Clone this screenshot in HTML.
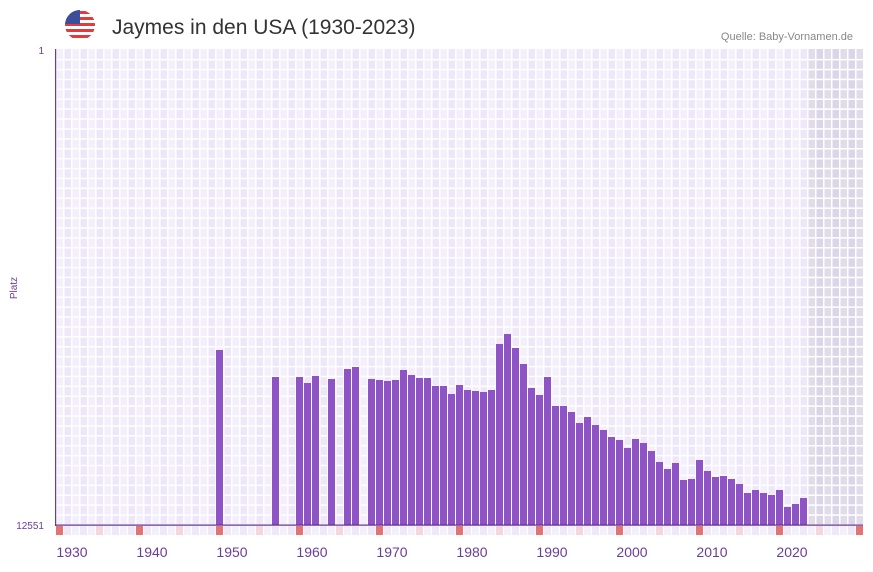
<!DOCTYPE html><html><head><meta charset="utf-8"><style>
body{margin:0;background:#fff;width:873px;height:567px;overflow:hidden;font-family:"Liberation Sans",sans-serif}
</style></head><body>
<svg id="s" width="873" height="567" xmlns="http://www.w3.org/2000/svg">
<defs><clipPath id="fc"><circle cx="80" cy="25" r="15"/></clipPath></defs>
<g clip-path="url(#fc)">
<rect x="65" y="10" width="30" height="30" fill="#fff"/>
<rect x="65" y="11" width="30" height="3" fill="#e23b3b"/><rect x="65" y="17" width="30" height="3" fill="#e23b3b"/><rect x="65" y="23" width="30" height="3" fill="#e23b3b"/><rect x="65" y="29" width="30" height="3" fill="#e23b3b"/><rect x="65" y="35" width="30" height="3" fill="#e23b3b"/>
<rect x="65" y="10" width="15" height="14" fill="#3c4d9b"/>
</g>
<text x="112" y="34" font-size="21" fill="#333" font-family="Liberation Sans,sans-serif">Jaymes in den USA (1930-2023)</text>
<text x="853" y="40" font-size="11" fill="#888" text-anchor="end">Quelle: Baby-Vornamen.de</text>
<text x="44" y="54" font-size="10" fill="#6a3d9a" text-anchor="end">1</text>
<text x="44" y="529" font-size="10" fill="#6a3d9a" text-anchor="end">12551</text>
<text x="17" y="288" font-size="10" fill="#6a3d9a" text-anchor="middle" transform="rotate(-90 17 288)">Platz</text>
<g id="g"></g>
</svg>
<script>
var g=document.getElementById('g'),h='';
for(var i=0;i<101;i++){var x=56+8*i;if(x>863)break;var w=Math.min(8,863-x);
h+='<rect x="'+x+'" y="49" width="'+w+'" height="476" fill="'+(i%2?'#ede7f8':'#f3effb')+'"/>';}
h+='<rect x="808" y="49" width="55" height="476" fill="#8a8a99" opacity="0.18"/>';
for(var i=0;i<102;i++){var x=55+8*i;if(x>863)break;h+='<rect x="'+x+'" y="49" width="1.5" height="486" fill="#fff"/>';}
for(var y=49+9.9;y<525;y+=9.9)h+='<rect x="55" y="'+y+'" width="808" height="1.5" fill="#fff"/>';
var d={1948:350,1955:377,1958:377,1959:383,1960:376,1962:379,1964:369,1965:367,1967:379,1968:380,1969:381,1970:380,1971:370,1972:375,1973:378,1974:378,1975:386,1976:386,1977:394,1978:385,1979:390,1980:391,1981:392,1982:390,1983:344,1984:334,1985:348,1986:364,1987:388,1988:395,1989:377,1990:406,1991:406,1992:412,1993:423,1994:417,1995:425,1996:430,1997:437,1998:440,1999:448,2000:439,2001:443,2002:451,2003:462,2004:469,2005:463,2006:480,2007:479,2008:460,2009:471,2010:477,2011:476,2012:479,2013:484,2014:493,2015:490,2016:493,2017:495,2018:490,2019:507,2020:504,2021:498};
for(var k in d){var x=56+8*(k-1928);h+='<rect x="'+x+'" y="'+d[k]+'" width="7" height="'+(525-d[k])+'" fill="#8e54c6"/>';}
for(var i=0;i<101;i++){var x=56+8*i;if(x>862)break;var yr=1928+i;
h+='<rect x="'+x+'" y="526" width="7" height="9" fill="'+(yr%10==8?'#e57373':yr%10==3?'#f3d6e0':(i%2?'#ede7f8':'#f3effb'))+'"/>';}
h+='<rect x="55" y="49" width="1.2" height="477" fill="#6a3d9a"/><rect x="55" y="524.5" width="808" height="1.2" fill="#5a2d8a"/>';
for(var y=1930;y<=2020;y+=10){h+='<text x="'+(72+8*(y-1930))+'" y="557" font-size="14" fill="#6a3d9a" text-anchor="middle">'+y+'</text>';}
g.innerHTML=h;
</script>
</body></html>
